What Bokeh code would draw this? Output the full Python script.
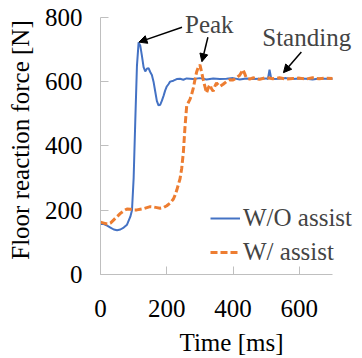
from bokeh.plotting import figure
from bokeh.models import Range1d, Legend, LegendItem, Arrow, NormalHead, Label
from bokeh.embed import file_html
from bokeh.resources import INLINE

# W/O assist
t_wo = [0, 10, 20, 30, 40, 50, 60, 70, 80, 90, 95, 100, 105, 110, 115, 120, 125, 130,
        135, 140, 145, 150, 155, 160, 165, 170, 175, 180, 185, 190, 195, 200, 205, 210,
        220, 230, 240, 250, 260, 280, 300, 320, 340, 360, 380, 400, 420, 440, 460, 480,
        500, 505, 510, 515, 520, 540, 560, 580, 600, 620, 640, 660, 680, 700]
f_wo = [157, 157, 152, 146, 140, 138, 140, 146, 155, 180, 200, 300, 480, 650, 722, 712,
        680, 645, 632, 640, 642, 630, 621, 600, 570, 540, 526, 528, 540, 555, 572, 585,
        592, 600, 603, 608, 609, 606, 610, 608, 611, 607, 610, 608, 609, 611, 607, 610,
        608, 609, 610, 608, 637, 610, 608, 609, 611, 608, 610, 609, 607, 610, 609, 608]

# W/ assist
t_w = [0, 10, 20, 30, 40, 50, 60, 70, 80, 90, 100, 110, 120, 130, 140, 150, 160, 170,
       180, 190, 200, 210, 220, 225, 230, 235, 240, 245, 250, 255, 260, 265, 270, 275,
       280, 285, 290, 295, 300, 305, 310, 315, 320, 325, 330, 335, 340, 345, 350, 355,
       360, 370, 380, 390, 400, 410, 420, 430, 435, 440, 450, 460, 480, 500, 520, 540,
       560, 580, 600, 620, 640, 660, 680, 700]
f_w = [163, 160, 157, 160, 170, 180, 190, 198, 204, 203, 201, 201, 203, 205, 208, 211,
       210, 208, 206, 208, 214, 222, 235, 247, 262, 280, 298, 330, 380, 460, 524, 535,
       545, 560, 580, 606, 630, 645, 652, 630, 606, 585, 565, 580, 590, 578, 570, 585,
       596, 590, 585, 592, 600, 606, 605, 612, 620, 637, 625, 611, 608, 612, 607, 613,
       609, 612, 608, 610, 611, 608, 612, 609, 611, 610]

x_ticks = [0, 200, 400, 600]
y_ticks = [0, 200, 400, 600, 800]
X_MAX = 700
Y_MAX = 800

FONT = "Liberation Serif"
FS = "25px"

# frame extends past the axes' ends so that texts near the edges are not clipped
p = figure(width=362, height=358, min_border_left=100, min_border_top=5,
           min_border_right=0, min_border_bottom=81,
           x_range=Range1d(0, X_MAX * 262 / 232), y_range=Range1d(0, Y_MAX * 272 / 260),
           output_backend="svg", toolbar_location=None)
p.outline_line_color = None
p.grid.visible = False

for ax in (p.xaxis[0], p.yaxis[0]):
    ax.axis_line_color = "#BFBFBF"
    ax.major_tick_line_color = "#BFBFBF"
    ax.major_tick_in = 8
    ax.major_tick_out = 0
    ax.minor_tick_line_color = None
    ax.major_label_text_font = FONT
    ax.major_label_text_font_size = FS
    ax.major_label_text_color = "black"
    ax.axis_label_text_font = FONT
    ax.axis_label_text_font_size = FS
    ax.axis_label_text_font_style = "normal"
    ax.axis_label_text_color = "black"

p.xaxis.bounds = (0, X_MAX)
p.yaxis.bounds = (0, Y_MAX)
p.xaxis.ticker = x_ticks
p.yaxis.ticker = y_ticks
p.xaxis.axis_label = "Time [ms]"
p.yaxis.axis_label = "Floor reaction force [N]"
p.xaxis.major_label_standoff = 25
p.xaxis.axis_label_standoff = 9
p.yaxis.major_label_standoff = 18
p.yaxis.axis_label_standoff = 8

r1 = p.line(t_wo, f_wo, line_color="#4472C4", line_width=2)
r2 = p.line(t_w, f_w, line_color="#ED7D31", line_width=3, line_dash="7 3")

legend = Legend(items=[LegendItem(label="W/O assist", renderers=[r1]),
                       LegendItem(label="W/ assist", renderers=[r2])],
                location=(110, 8), padding=0, margin=0, spacing=6,
                glyph_width=30, glyph_height=20, label_standoff=3,
                label_text_font=FONT, label_text_font_size=FS,
                background_fill_alpha=0, border_line_alpha=0)
p.add_layout(legend)

def arrow(x0, y0, x1, y1):
    p.add_layout(Arrow(end=NormalHead(size=8, fill_color="black", line_color="black"),
                       x_start=x0, y_start=y0, x_end=x1, y_end=y1,
                       line_color="black", line_width=1.5))

arrow(246, 769, 116, 723)
arrow(324, 738, 306, 662)
arrow(606, 692, 552, 628)

p.add_layout(Label(x=255, y=779, text="Peak", text_font=FONT, text_font_size=FS,
                   text_baseline="alphabetic"))
p.add_layout(Label(x=488, y=737, text="Standing", text_font=FONT, text_font_size=FS,
                   text_baseline="alphabetic"))

open("out.html", "w").write(file_html(p, INLINE))
